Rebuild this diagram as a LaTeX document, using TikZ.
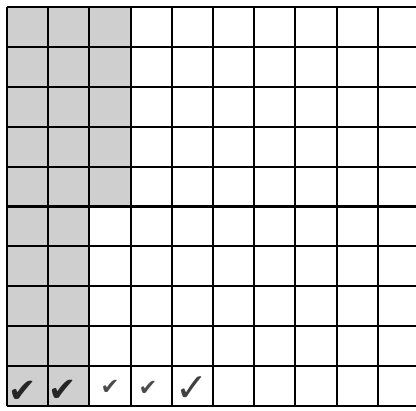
\documentclass[tikz,border=0pt]{standalone}
\usepackage{fontspec}
\newfontfamily\symfont{DejaVu Sans}
\usetikzlibrary{positioning}

\begin{document}
\begin{tikzpicture}[
  x=0.025cm, y=-0.025cm,
  gridline/.style={line width=1.5pt, black},
  shadecell/.style={fill=black!19},
  bigtick/.style={font=\symfont\fontsize{24}{24}\selectfont, inner sep=0pt, text=black!85},
  smalltick/.style={font=\symfont\fontsize{16}{16}\selectfont, inner sep=0pt, text=black!70},
  thintick/.style={font=\symfont\fontsize{28}{28}\selectfont, inner sep=0pt, text=black!75}
]
\useasboundingbox (0,0) rectangle (416,411);
\clip (0,0) rectangle (416,411);

% shaded part
\fill[shadecell] (7,7) rectangle (89.4,406);
\fill[shadecell] (89.4,7) rectangle (130.6,206.5);

% grid
\foreach \i in {0,...,10} {
  \draw[gridline] (7+41.2*\i,7) -- (7+41.2*\i,406);
  \draw[gridline] (7,7+39.9*\i) -- (419,7+39.9*\i);
}

% ticks in the bottom row
\node[bigtick] (tick1) at (23,392) {✔};
\node[bigtick] (tick2) at (63,391) {✔};
\node[smalltick] (tick3) at (110,387) {✔};
\node[smalltick] (tick4) at (148,388) {✔};
\node[thintick] (tick5) at (192,389) {✓};

\end{tikzpicture}
\end{document}
